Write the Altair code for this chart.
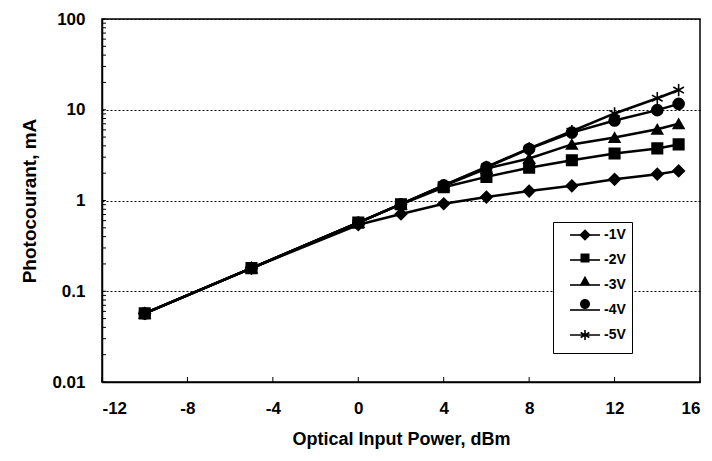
import altair as alt
import pandas as pd

# ---- data ----
x_dbm = [-10, -5, 0, 2, 4, 6, 8, 10, 12, 14, 15]
series = ["-1V", "-2V", "-3V", "-4V", "-5V"]
v_1 = [0.057, 0.18, 0.54, 0.71, 0.92, 1.09, 1.27, 1.45, 1.71, 1.95, 2.12]
v_2 = [0.057, 0.18, 0.57, 0.91, 1.40, 1.82, 2.30, 2.78, 3.30, 3.75, 4.15]
v_3 = [0.057, 0.18, 0.57, 0.91, 1.45, 2.25, 2.90, 4.15, 4.95, 6.10, 7.00]
v_4 = [0.057, 0.18, 0.57, 0.91, 1.47, 2.32, 3.70, 5.60, 7.60, 9.90, 11.6]
v_5 = [0.057, 0.18, 0.57, 0.91, 1.47, 2.35, 3.75, 5.80, 9.10, 13.4, 16.5]
x_ticks = [-12, -8, -4, 0, 4, 8, 12, 16]
y_labels = [0.01, 0.1, 1, 10, 100]
y_ticks = [m * 10.0 ** e for e in range(-2, 2) for m in range(1, 10)] + [100]

rows = []
for name, vals in zip(series, [v_1, v_2, v_3, v_4, v_5]):
    for x, y in zip(x_dbm, vals):
        rows.append({"series": name, "x": x, "y": y})
df = pd.DataFrame(rows)

FONT = "Liberation Sans"
W, H = 598, 363

xscale = alt.Scale(domain=[-12, 16], nice=False, zero=False)
yscale = alt.Scale(type="log", domain=[0.01, 100], nice=False)

asterisk = "M0,-1L0,1M-0.87,-0.5L0.87,0.5M-0.87,0.5L0.87,-0.5"
plot_shapes = ["diamond", "square", "triangle-up", "circle", asterisk]
plot_sizes = [130, 110, 115, 120, 150]

# legend glyphs: stroked part (line + asterisk) and filled part (markers);
# the leading move-tos give both sets the same bounding box so rows line up.
BOX = "M-3,-1.6M3,1.6"
legend_stroke_shapes = [
    BOX + "M-3,0L3,0",
    BOX + "M-3,0L3,0",
    BOX + "M-3,0L3,0",
    BOX + "M-3,0L3,0",
    BOX + "M-3,0L3,0M0,-1L0,1M-0.87,-0.5L0.87,0.5M-0.87,0.5L0.87,-0.5",
]
legend_fill_shapes = [
    BOX + "M0,-1.15L1.15,0L0,1.15L-1.15,0Z",
    BOX + "M-0.9,-0.9L0.9,-0.9L0.9,0.9L-0.9,0.9Z",
    BOX + "M0,-1.05L1.05,0.85L-1.05,0.85Z",
    BOX + "M-1,0A1,1,0,1,0,1,0A1,1,0,1,0,-1,0Z",
    BOX,
]

x_enc = alt.X(
    "x:Q",
    scale=xscale,
    axis=alt.Axis(
        title="Optical Input Power, dBm",
        values=x_ticks,
        labelExpr="datum.value < 0 ? '-' + abs(datum.value) : '' + datum.value",
        ticks=False,
        grid=False,
        labelFont=FONT,
        labelFontSize=17,
        labelFontWeight="bold",
        labelColor="black",
        labelPadding=18,
        titleFont=FONT,
        titleFontSize=18,
        titleFontWeight="bold",
        titleColor="black",
        titlePadding=14,
        domainColor="black",
        domainWidth=1.5,
    ),
)
y_enc = alt.Y(
    "y:Q",
    scale=yscale,
    axis=alt.Axis(
        title="Photocourant, mA",
        values=y_labels,
        labelExpr="datum.value >= 1 ? format(datum.value, 'd') : format(datum.value, '')",
        ticks=False,
        grid=True,
        gridColor="black",
        gridDash=[2, 2],
        gridWidth=1,
        labelFont=FONT,
        labelFontSize=17,
        labelFontWeight="bold",
        labelColor="black",
        labelPadding=17,
        titleFont=FONT,
        titleFontSize=19,
        titleFontWeight="bold",
        titleColor="black",
        titlePadding=12,
        domainColor="black",
        domainWidth=1.5,
    ),
)

base = alt.Chart(df)

lines = base.mark_line(color="black", strokeWidth=2.5).encode(
    x=x_enc, y=y_enc, detail="series:N"
)

point_layers = []
for name, shp, sz in zip(series, plot_shapes, plot_sizes):
    is_star = shp == asterisk
    point_layers.append(
        base.transform_filter(alt.datum.series == name)
        .mark_point(
            shape=shp,
            size=sz,
            filled=not is_star,
            fill="black" if not is_star else "transparent",
            stroke="black",
            strokeWidth=1.6,
            opacity=1,
        )
        .encode(x="x:Q", y="y:Q")
    )

common_legend = dict(
    title=None,
    orient="none",
    legendX=451,
    legendY=203,
    symbolSize=100,
    symbolOffset=19,
    labelFont=FONT,
    labelFontSize=14,
    labelFontWeight="bold",
    labelColor="black",
    labelOffset=12,
    rowPadding=1,
    padding=6,
    offset=0,
)

legend_stroke_layer = (
    base.transform_filter("false")
    .mark_point(filled=False, color="black", strokeWidth=1.6, opacity=1)
    .encode(
        x="x:Q",
        y="y:Q",
        shape=alt.Shape(
            "series:N",
            scale=alt.Scale(domain=series, range=legend_stroke_shapes),
            legend=alt.Legend(
                strokeColor="black",
                fillColor="white",
                symbolStrokeColor="black",
                symbolStrokeWidth=1.6,
                **common_legend,
            ),
        ),
    )
)

legend_fill_layer = (
    base.transform_filter("false")
    .transform_calculate(entry="datum.series")
    .mark_point(filled=True, color="black", opacity=1)
    .encode(
        x="x:Q",
        y="y:Q",
        shape=alt.Shape(
            "entry:N",
            scale=alt.Scale(domain=series, range=legend_fill_shapes),
            legend=alt.Legend(
                labelExpr="'\u00a0'",
                symbolFillColor="black",
                **common_legend,
            ),
        ),
    )
)

tick_df = pd.DataFrame({"t": y_ticks})
ytick_rules = alt.Chart(tick_df).mark_rule(color="black", strokeWidth=1).encode(
    y=alt.Y("t:Q", scale=yscale), x=alt.value(0), x2=alt.value(4)
)
xtick_df = pd.DataFrame({"t": x_ticks})
xtick_rules = alt.Chart(xtick_df).mark_rule(color="black", strokeWidth=1).encode(
    x=alt.X("t:Q", scale=xscale), y=alt.value(H), y2=alt.value(H - 5)
)

chart = (
    alt.layer(ytick_rules, xtick_rules, lines, *point_layers, legend_stroke_layer, legend_fill_layer)
    .resolve_scale(shape="independent")
    .properties(
        width=W,
        height=H,
        autosize=alt.AutoSizeParams(type="none"),
        padding={"left": 94, "top": 11, "right": 4, "bottom": 74},
        background="white",
    )
    .configure_view(stroke="black", strokeWidth=1.5)
)

chart.save("out.html", embed_options={"renderer": "svg", "actions": False})
